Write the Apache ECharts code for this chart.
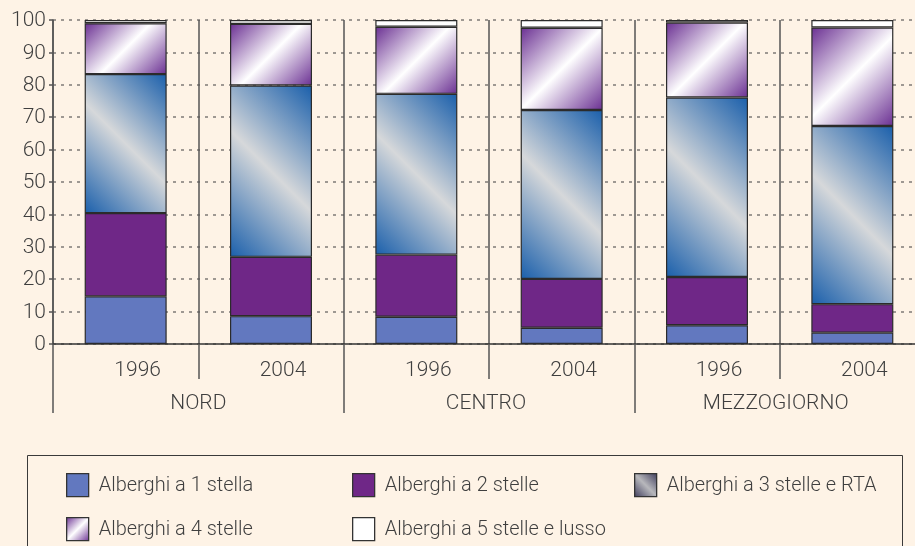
<!DOCTYPE html>
<html>
<head>
<meta charset="utf-8">
<script src="https://cdn.jsdelivr.net/npm/echarts@6/dist/echarts.min.js"></script>
<style>
  html, body { margin: 0; padding: 0; background: #fef3e6; overflow: hidden; width: 915px; height: 546px; }
  #chart { width: 925px; height: 546px; }
</style>
</head>
<body>
<div id="chart"></div>
<script>
// ---- data ----
const years = ['1996', '2004', '1996', '2004', '1996', '2004'];
const regions = ['NORD', 'CENTRO', 'MEZZOGIORNO'];
const seriesNames = ['Alberghi a 1 stella', 'Alberghi a 2 stelle', 'Alberghi a 3 stelle e RTA', 'Alberghi a 4 stelle', 'Alberghi a 5 stelle e lusso'];
const stars1 = [14.7, 8.6, 8.4, 5.0, 5.8, 3.5];
const stars2 = [25.7, 18.3, 19.2, 15.1, 14.9, 8.8];
const stars3 = [42.9, 52.9, 49.6, 52.1, 55.4, 55.0];
const stars4 = [15.7, 19.0, 20.7, 25.4, 23.1, 30.4];
const stars5 = [1.0, 1.2, 2.1, 2.4, 0.8, 2.3];
const yTicks = { min: 0, max: 100, interval: 10 };

// ---- styling ----
const FONT = "'Roboto Light', Roboto, sans-serif";
const TXT = '#3f3f3f';
const LINE = '#555';
const BAR_W = 82;
const GRID_H = 324;
const PX_PER_UNIT = GRID_H / (yTicks.max - yTicks.min);

const blueStops = [
  { offset: 0, color: '#1a5fab' },
  { offset: 0.5, color: '#d6d8da' },
  { offset: 1, color: '#1a5fab' }
];
const purpleStops = [
  { offset: 0, color: '#6a2f92' },
  { offset: 0.5, color: '#ffffff' },
  { offset: 1, color: '#6a2f92' }
];
// 45-degree diagonal gradient in pixel space for a w x h box
function diag(w, h, stops, rising) {
  const k = (w + h) / 4;
  if (rising) {
    return { type: 'linear', x: 0.5 + k / w, y: 0.5 - k / h, x2: 0.5 - k / w, y2: 0.5 + k / h, colorStops: stops };
  }
  return { type: 'linear', x: 0.5 - k / w, y: 0.5 - k / h, x2: 0.5 + k / w, y2: 0.5 + k / h, colorStops: stops };
}

const border = { borderColor: '#2b2b2b', borderWidth: 1.2 };
const solid1 = '#6278bf';
const solid2 = '#6f2787';

function barSeries(name, values, colorFn) {
  return {
    name: name,
    type: 'bar',
    stack: 'total',
    barWidth: BAR_W,
    xAxisIndex: 0,
    data: values.map(v => ({ value: v, itemStyle: Object.assign({ color: colorFn(v) }, border) })),
    itemStyle: Object.assign({}, border)
  };
}

const series = [
  barSeries(seriesNames[0], stars1, () => solid1),
  barSeries(seriesNames[1], stars2, () => solid2),
  barSeries(seriesNames[2], stars3, v => diag(BAR_W, v * PX_PER_UNIT, blueStops, true)),
  barSeries(seriesNames[3], stars4, v => diag(BAR_W, v * PX_PER_UNIT, purpleStops, false)),
  barSeries(seriesNames[4], stars5, () => '#ffffff')
];

const legendIconColors = [
  solid1,
  solid2,
  diag(22, 23, [{ offset: 0, color: '#3d3a5a' }, { offset: 0.5, color: '#b8b8bc' }, { offset: 1, color: '#3d3a5a' }], true),
  diag(22, 23, purpleStops, false),
  '#ffffff'
];
const legendPos = [
  { left: 66, top: 473 },
  { left: 352, top: 473 },
  { left: 634, top: 473 },
  { left: 66, top: 517 },
  { left: 352, top: 517 }
];
const legends = seriesNames.map((n, i) => ({
  left: legendPos[i].left,
  top: legendPos[i].top,
  padding: 0,
  itemWidth: 22,
  itemHeight: 23,
  icon: 'rect',
  selectedMode: false,
  textStyle: { fontFamily: FONT, fontWeight: 300, fontSize: 20, color: TXT, padding: [0, 0, 0, 5] },
  data: [{ name: n, itemStyle: { color: legendIconColors[i], borderColor: '#333', borderWidth: 1.3 } }]
}));

const regionLabelPad = [[0, 0, 0, 0], [0, 6, 0, 0], [0, 8, 0, 0]];

const chart = echarts.init(document.getElementById('chart'), null, { renderer: 'canvas' });
chart.setOption({
  backgroundColor: '#fef3e6',
  animation: false,
  grid: { left: 53, top: 20, right: 0, height: GRID_H },
  legend: legends,
  xAxis: [
    {
      type: 'category',
      data: years,
      position: 'bottom',
      axisLine: { show: true, lineStyle: { color: '#333', width: 1.5 } },
      axisTick: { show: true, interval: 0, length: 35, lineStyle: { color: LINE, width: 1.5 } },
      axisLabel: { interval: 0, margin: 15, padding: [0, 0, 0, 24], fontFamily: FONT, fontWeight: 300, fontSize: 21, color: TXT },
      splitLine: { show: true, interval: 0, lineStyle: { color: LINE, width: 1.5 } }
    },
    {
      type: 'category',
      data: regions.map((r, i) => ({ value: r, textStyle: { padding: regionLabelPad[i] } })),
      position: 'bottom',
      gridIndex: 0,
      axisLine: { show: false },
      axisTick: { show: true, interval: 0, length: 69, lineStyle: { color: LINE, width: 1.5 } },
      axisLabel: { interval: 0, margin: 48, fontFamily: FONT, fontWeight: 300, fontSize: 21, color: TXT },
      splitLine: { show: false }
    }
  ],
  yAxis: {
    type: 'value',
    min: yTicks.min,
    max: yTicks.max,
    interval: yTicks.interval,
    axisLine: { show: true, lineStyle: { color: LINE, width: 1.5 } },
    axisTick: { show: true, length: 4, lineStyle: { color: LINE, width: 1.5 } },
    axisLabel: { margin: 7, fontFamily: FONT, fontWeight: 300, fontSize: 21, color: TXT },
    splitLine: { show: true, lineStyle: { color: '#9e9892', width: 2, type: [3, 5] } }
  },
  graphic: [
    {
      type: 'rect',
      silent: true,
      shape: { x: 27.5, y: 455.5, width: 875, height: 120 },
      style: { fill: 'none', stroke: '#3a3a3a', lineWidth: 1 }
    }
  ],
  series: series
});
</script>
</body>
</html>
